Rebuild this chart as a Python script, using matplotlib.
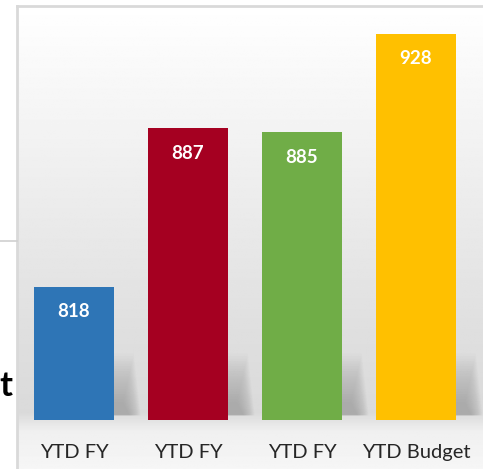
import numpy as np
import matplotlib
matplotlib.use('Agg')
import matplotlib.pyplot as plt
from matplotlib.patches import Polygon

plt.rcParams['font.family'] = ['Lato', 'DejaVu Sans']

# chart data
categories = ['YTD FY', 'YTD FY', 'YTD FY', 'YTD Budget']
values = [818, 887, 885, 928]
colors = ['#2e75b6', '#a50021', '#70ad47', '#ffc000']
ymin, ymax = 760, 940

W, H = 483, 469
fig = plt.figure(figsize=(W / 100, H / 100), dpi=100)
fig.patch.set_facecolor('white')


def px_box(x0, y0, x1, y1):
    # pixel box (top-left origin) -> figure fraction rect
    return [x0 / W, 1 - y1 / H, (x1 - x0) / W, (y1 - y0) / H]


# gradient panel behind the chart
bg = fig.add_axes(px_box(17, 6, W, H))
ys = np.linspace(0, 1, 300)
stops_y = [0.0, 0.2, 0.45, 0.7, 0.88, 0.92, 1.0]
stops_v = [1.0, 0.965, 0.92, 0.875, 0.855, 0.94, 0.965]
grad = np.interp(ys, stops_y, stops_v)[:, None] * np.ones((1, 10))
bg.imshow(grad, cmap='gray', vmin=0, vmax=1, aspect='auto', extent=[0, 1, 1, 0])
bg.set_xlim(0, 1)
bg.set_ylim(1, 0)
bg.axis('off')

# main axes
ax = fig.add_axes(px_box(17, 6, W, 420))
ax.patch.set_alpha(0)
x = np.arange(len(values))
bw = 0.70

# soft shadows on the floor behind each bar
for xi, v in zip(x, values):
    for k in range(20):
        d = 0.14 + 0.005 * k
        h = 8 + 1.1 * k
        poly = Polygon([(xi - bw / 2 + d, ymin + 2), (xi + bw / 2 + d, ymin + 2),
                        (xi + bw / 2 + d - 0.06, ymin + h), (xi - bw / 2 + d - 0.06, ymin + h)],
                       closed=True, facecolor='#707070', alpha=0.025, edgecolor='none', zorder=1)
        ax.add_patch(poly)

bars = ax.bar(x, values, width=bw, color=colors, zorder=2)
for b, v in zip(bars, values):
    ax.text(b.get_x() + b.get_width() / 2, v - 11, str(v), ha='center', va='center',
            color='white', fontsize=13.5, fontweight='bold', zorder=3)

ax.set_xlim(-0.5, 3.588)
ax.set_ylim(ymin, ymax)
ax.axis('off')

for i, c in enumerate(categories):
    ax.text(x[i], ymin - 14, c, ha='center', va='center', fontsize=14.5, color='#262626',
            clip_on=False)

# panel border and bits of the neighbouring slide content
fig.add_artist(plt.Line2D([17 / W, 17 / W], [0, 1 - 6 / H], color='#d9d9d9', lw=2))
fig.add_artist(plt.Line2D([17 / W, 1], [1 - 6 / H, 1 - 6 / H], color='#d9d9d9', lw=2))
fig.add_artist(plt.Line2D([0, 17 / W], [1 - 241 / H, 1 - 241 / H], color='#d0d0d0', lw=1.2))
fig.text(12 / W, 1 - 386 / H, 't', ha='right', va='center', fontsize=25,
         fontweight='bold', color='black')

fig.savefig('out.png', dpi=100, facecolor='white')
